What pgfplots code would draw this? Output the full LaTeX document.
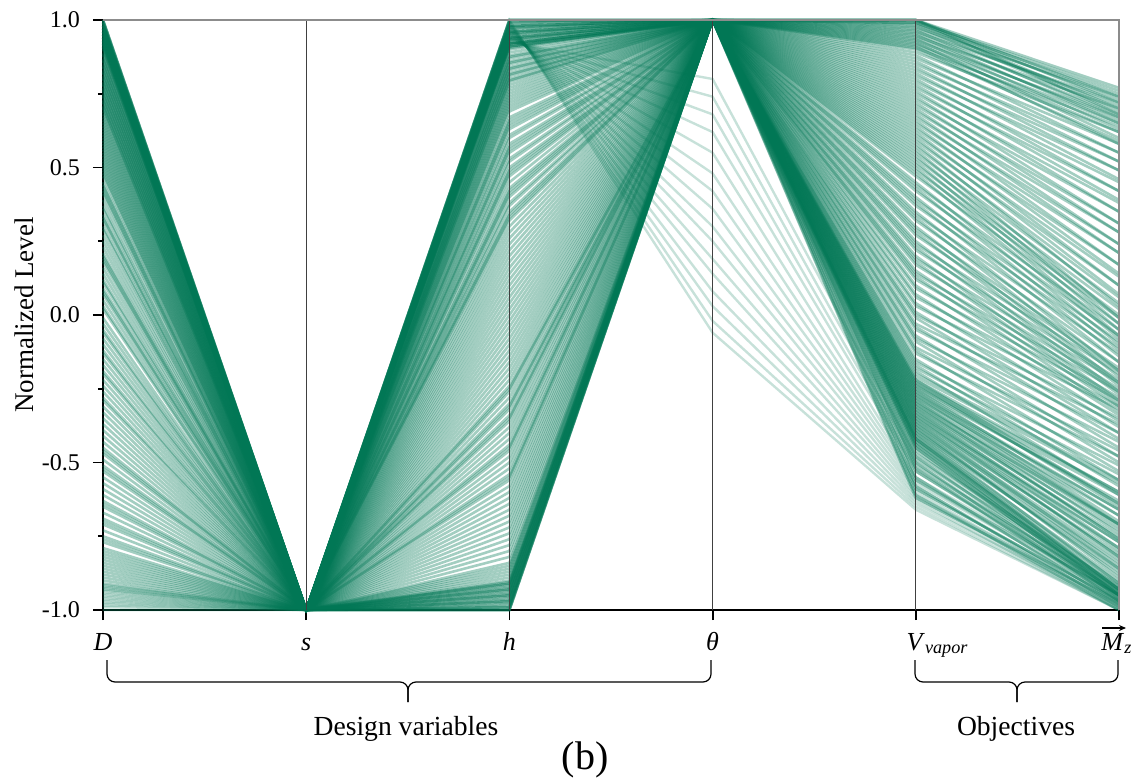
\documentclass[border=0pt]{standalone}
\usepackage{pgfplots}
\pgfplotsset{compat=1.18}
\usetikzlibrary{arrows.meta}
\usepackage{fontspec}
\setmainfont{Liberation Serif}
\definecolor{lc}{RGB}{0,118,84}
\newcommand\pl[5]{\addplot[lc, opacity=0.36, line width=1.3pt] coordinates {(0,#1) (1,-1) (2,#2) (3,#3) (4,#4) (5,#5)};}
\newcommand\pll[5]{\addplot[lc, opacity=0.22, line width=1.2pt] coordinates {(0,#1) (1,-1) (2,#2) (3,#3) (4,#4) (5,#5)};}
\begin{document}
\begin{tikzpicture}
\begin{axis}[name=ax, width=508pt, height=295pt, scale only axis,
  xmin=0, xmax=5, ymin=-1, ymax=1, clip=false,
  axis x line*=bottom, axis y line*=left,
  axis line style={line width=0.9pt, black},
  xtick={0,1,2,3,4,5}, xticklabels={},
  ytick={-1,-0.5,0,0.5,1}, minor ytick={-0.75,-0.25,0.25,0.75},
  /pgf/number format/assume math mode=true,
  /pgf/number format/fixed, /pgf/number format/fixed zerofill, /pgf/number format/precision=1,
  tick align=outside, major tick length=5pt, minor tick length=2.5pt,
  tick style={black, line width=0.9pt},
  yticklabel style={font=\fontsize{12}{14}\selectfont, xshift=-3pt},
  ylabel={Normalized Level}, ylabel style={font=\fontsize{13.5}{16}\selectfont}, ylabel shift=-3pt,
]
\pl{1.00}{-0.85}{1}{1.00}{0.77}
\pl{0.99}{-0.87}{1}{1.00}{0.74}
\pl{0.98}{-0.89}{1}{1.00}{0.72}
\pl{0.97}{-0.91}{1}{0.995}{0.76}
\pl{0.96}{-0.93}{1}{0.99}{0.70}
\pl{0.95}{-0.95}{1}{0.99}{0.75}
\pl{0.94}{-0.97}{1}{0.985}{0.73}
\pl{0.93}{-0.99}{1}{0.98}{0.69}
\pl{0.92}{-1.00}{1}{0.975}{0.74}
\pl{0.91}{-1.00}{1}{0.97}{0.71}
\pl{0.90}{-0.995}{1}{0.965}{0.67}
\pl{0.995}{-0.985}{1}{0.96}{0.72}
\pl{0.985}{-0.975}{1}{0.955}{0.68}
\pl{0.975}{-0.965}{1}{0.95}{0.65}
\pl{0.965}{-0.955}{1}{0.945}{0.70}
\pl{0.955}{-0.945}{1}{0.94}{0.66}
\pl{0.945}{-0.935}{1}{0.935}{0.63}
\pl{0.935}{-0.925}{1}{0.93}{0.67}
\pl{0.925}{-0.915}{1}{0.925}{0.60}
\pl{0.915}{-0.905}{1}{0.92}{0.65}
\pl{0.905}{-1.00}{1}{0.915}{0.62}
\pl{1.00}{-0.99}{1}{0.91}{0.58}
\pl{0.99}{-0.98}{1}{0.905}{0.64}
\pl{0.98}{-0.97}{1}{0.90}{0.59}
\pl{0.97}{-0.96}{1}{1.00}{0.68}
\pl{0.96}{-0.95}{1}{0.89}{0.62}
\pl{0.95}{-0.94}{1}{0.88}{0.55}
\pl{0.94}{-0.93}{1}{0.87}{0.58}
\pl{0.93}{-0.92}{1}{0.86}{0.52}
\pl{0.92}{-0.91}{1}{0.85}{0.55}
\pl{0.99}{-0.90}{1}{0.84}{0.49}
\pl{0.97}{-0.88}{1}{0.83}{0.52}
\pl{0.95}{-0.86}{1}{0.82}{0.46}
\pl{0.93}{-0.84}{1}{0.81}{0.49}
\pl{0.91}{-0.82}{1}{0.80}{0.42}
\pl{1.00}{-0.80}{1}{0.79}{0.45}
\pl{0.98}{-0.78}{1}{0.78}{0.39}
\pl{0.96}{-0.76}{1}{0.77}{0.42}
\pl{0.94}{-0.74}{1}{0.76}{0.35}
\pl{0.92}{-0.72}{1}{0.75}{0.38}
\pl{0.89}{-0.70}{1}{0.74}{0.31}
\pl{0.88}{-0.68}{1}{0.73}{0.35}
\pl{0.87}{-0.66}{1}{0.72}{0.28}
\pl{0.86}{-0.64}{1}{0.71}{0.31}
\pl{0.85}{-0.62}{1}{0.70}{0.24}
\pl{0.84}{-0.31}{1}{0.69}{0.28}
\pl{0.83}{-0.55}{1}{0.68}{0.21}
\pl{0.82}{-0.45}{1}{0.67}{0.24}
\pl{0.81}{-0.35}{1}{0.66}{0.17}
\pl{0.80}{-0.25}{1}{0.65}{0.21}
\pl{0.79}{-0.60}{1}{0.64}{0.14}
\pl{0.78}{-0.58}{1}{0.63}{0.17}
\pl{0.77}{-0.56}{1}{0.62}{0.10}
\pl{0.76}{-0.54}{1}{0.61}{0.13}
\pl{0.75}{-0.52}{1}{0.60}{0.07}
\pl{0.74}{-0.50}{1}{0.59}{0.10}
\pl{0.73}{-0.48}{1}{0.58}{0.03}
\pl{0.72}{-0.46}{1}{0.57}{0.06}
\pl{0.71}{-0.44}{1}{0.56}{-0.01}
\pl{0.70}{-0.42}{1}{0.55}{0.04}
\pl{0.885}{-0.40}{1}{0.54}{-0.03}
\pl{0.865}{-0.38}{1}{0.53}{0.02}
\pl{0.845}{-0.36}{1}{0.52}{-0.05}
\pl{0.825}{-0.34}{1}{0.51}{0.00}
\pl{0.805}{-0.32}{1}{0.50}{-0.07}
\pl{0.785}{-0.30}{1}{0.49}{-0.01}
\pl{0.765}{-0.28}{1}{0.48}{-0.08}
\pl{0.745}{-0.26}{1}{0.47}{-0.03}
\pl{0.725}{-0.24}{1}{0.45}{-0.10}
\pl{0.705}{-0.22}{1}{0.44}{-0.05}
\pl{0.69}{-0.20}{1}{0.43}{-0.12}
\pl{0.68}{-0.18}{1}{0.42}{-0.07}
\pl{0.66}{-0.16}{1}{0.40}{-0.14}
\pl{0.65}{-0.14}{1}{0.39}{-0.09}
\pl{0.63}{-0.12}{1}{0.38}{-0.16}
\pl{0.62}{-0.10}{1}{0.37}{-0.11}
\pl{0.60}{-0.08}{1}{0.35}{-0.19}
\pl{0.59}{-0.06}{1}{0.34}{-0.13}
\pl{0.57}{-0.04}{1}{0.33}{-0.21}
\pl{0.56}{-0.02}{1}{0.32}{-0.16}
\pl{0.54}{0.00}{1}{0.30}{-0.23}
\pl{0.53}{0.02}{1}{0.29}{-0.18}
\pl{0.51}{0.04}{1}{0.28}{-0.24}
\pl{0.50}{0.06}{1}{0.27}{-0.19}
\pl{0.48}{0.08}{1}{0.25}{-0.26}
\pl{0.47}{0.10}{1}{0.24}{-0.20}
\pl{0.45}{0.12}{1}{0.23}{-0.27}
\pl{0.44}{0.14}{1}{0.22}{-0.22}
\pl{0.42}{0.16}{1}{0.20}{-0.29}
\pl{0.41}{0.18}{1}{0.19}{-0.23}
\pl{0.67}{0.20}{1}{0.18}{-0.30}
\pl{0.61}{0.22}{1}{0.17}{-0.25}
\pl{0.55}{0.24}{1}{0.15}{-0.31}
\pl{0.49}{0.26}{1}{0.14}{-0.26}
\pl{0.43}{0.28}{1}{0.13}{-0.33}
\pl{0.39}{0.34}{1}{0.12}{-0.28}
\pl{0.37}{0.41}{1}{0.10}{-0.34}
\pl{0.36}{0.49}{1}{0.09}{-0.29}
\pl{0.34}{0.57}{1}{0.07}{-0.36}
\pl{0.32}{0.65}{1}{0.06}{-0.31}
\pl{0.30}{0.30}{1}{0.04}{-0.38}
\pl{0.29}{0.32}{1}{0.03}{-0.32}
\pl{0.27}{0.33}{1}{0.01}{-0.40}
\pl{0.25}{0.35}{1}{0.00}{-0.35}
\pl{0.23}{0.37}{1}{-0.01}{-0.42}
\pl{0.21}{0.38}{1}{-0.03}{-0.37}
\pl{0.20}{0.40}{1}{-0.04}{-0.45}
\pl{0.18}{0.42}{1}{-0.05}{-0.40}
\pl{0.16}{0.43}{1}{-0.07}{-0.48}
\pl{0.14}{0.45}{1}{-0.08}{-0.43}
\pl{0.12}{0.47}{1}{-0.09}{-0.50}
\pl{0.11}{0.48}{1}{-0.11}{-0.46}
\pl{0.09}{0.50}{1}{-0.12}{-0.53}
\pl{0.07}{0.52}{1}{-0.13}{-0.48}
\pl{0.05}{0.53}{1}{-0.15}{-0.56}
\pl{0.03}{0.55}{1}{-0.16}{-0.51}
\pl{0.02}{0.56}{1}{-0.17}{-0.58}
\pl{0.33}{0.58}{1}{-0.18}{-0.54}
\pl{0.19}{0.60}{1}{-0.19}{-0.61}
\pl{0.08}{0.61}{1}{-0.20}{-0.56}
\pl{-0.01}{0.63}{1}{-0.21}{-0.57}
\pl{-0.03}{0.64}{1}{-0.22}{-0.64}
\pl{-0.05}{0.66}{1}{-0.22}{-0.60}
\pl{-0.06}{0.67}{1}{-0.23}{-0.65}
\pl{-0.08}{0.69}{1}{-0.24}{-0.61}
\pl{-0.10}{0.795}{1}{-0.25}{-0.68}
\pl{-0.12}{0.815}{1}{-0.25}{-0.63}
\pl{-0.13}{0.835}{1}{-0.26}{-0.70}
\pl{-0.15}{0.855}{1}{-0.27}{-0.66}
\pl{-0.17}{0.875}{1}{-0.27}{-0.71}
\pl{-0.19}{0.70}{1}{-0.28}{-0.68}
\pl{-0.20}{0.71}{1}{-0.29}{-0.74}
\pl{-0.22}{0.72}{1}{-0.30}{-0.71}
\pl{-0.24}{0.73}{1}{-0.30}{-0.76}
\pl{-0.26}{0.74}{1}{-0.31}{-0.73}
\pl{-0.28}{0.75}{1}{-0.32}{-0.79}
\pl{-0.29}{0.76}{1}{-0.32}{-0.75}
\pl{-0.31}{0.77}{1}{-0.33}{-0.80}
\pl{-0.33}{0.78}{1}{-0.34}{-0.77}
\pl{-0.35}{0.79}{1}{-0.34}{-0.82}
\pl{-0.37}{0.80}{1}{-0.35}{-0.79}
\pl{-0.39}{0.81}{1}{-0.36}{-0.85}
\pl{0.64}{0.82}{1}{-0.36}{-0.81}
\pl{0.58}{0.83}{1}{-0.37}{-0.86}
\pl{0.52}{0.84}{1}{-0.38}{-0.84}
\pl{-0.41}{0.85}{1}{-0.38}{-0.89}
\pl{-0.43}{0.86}{1}{-0.39}{-0.86}
\pl{-0.45}{0.87}{1}{-0.40}{-0.91}
\pl{-0.47}{0.88}{1}{-0.40}{-0.87}
\pl{-0.49}{0.89}{1}{-0.41}{-0.93}
\pl{-0.51}{0.935}{1}{-0.41}{-0.90}
\pl{-0.53}{0.955}{1}{-0.42}{-0.94}
\pl{-0.55}{0.975}{1}{-0.42}{-0.91}
\pl{-0.57}{0.995}{1}{-0.43}{-0.95}
\pl{-0.59}{0.92}{1}{-0.43}{-0.92}
\pl{-0.61}{0.94}{1}{-0.44}{-0.95}
\pl{-0.63}{0.96}{1}{-0.44}{-0.93}
\pl{-0.65}{0.98}{1}{-0.45}{-0.96}
\pl{-0.67}{1.00}{1}{-0.45}{-0.94}
\pl{-0.69}{0.91}{1}{-0.42}{-0.93}
\pl{-0.71}{0.92}{1}{-0.39}{-0.88}
\pl{-0.73}{0.93}{1}{-0.37}{-0.83}
\pl{-0.75}{0.94}{1}{-0.35}{-0.82}
\pl{-0.77}{0.95}{1}{-0.33}{-0.77}
\pl{-0.79}{0.96}{1}{-0.31}{-0.76}
\pl{-0.46}{0.97}{1}{-0.29}{-0.72}
\pl{-0.52}{0.98}{1}{-0.28}{-0.71}
\pl{-0.64}{0.99}{1}{-0.26}{-0.66}
\pl{-0.70}{1.00}{1}{-0.24}{-0.64}
\pl{-0.76}{0.91}{1}{-0.23}{-0.60}
\pl{-0.80}{0.92}{1}{-0.46}{-0.95}
\pl{-0.81}{0.93}{1}{-0.47}{-0.92}
\pl{-0.82}{0.94}{1}{-0.48}{-0.96}
\pl{-0.83}{0.95}{1}{-0.49}{-0.93}
\pl{-0.84}{0.96}{1}{-0.50}{-0.97}
\pl{-0.85}{0.97}{1}{-0.51}{-0.94}
\pl{-0.86}{0.98}{1}{-0.52}{-0.97}
\pl{-0.87}{0.99}{1}{-0.53}{-0.95}
\pl{-0.88}{1.00}{1}{-0.55}{-0.98}
\pl{-0.89}{0.90}{1}{-0.56}{-0.95}
\pl{-0.90}{0.905}{1}{-0.58}{-0.99}
\pl{-0.91}{0.91}{1}{-0.59}{-0.97}
\pl{-0.92}{0.915}{1}{-0.61}{-1.00}
\pl{-0.93}{0.92}{1}{-0.62}{-0.98}
\pll{-0.94}{0.925}{0.80}{-0.48}{-0.93}
\pll{-0.95}{0.93}{0.74}{-0.50}{-0.95}
\pll{-0.96}{0.935}{0.68}{-0.52}{-0.94}
\pll{-0.97}{0.94}{0.62}{-0.53}{-0.96}
\pll{-0.98}{0.945}{0.55}{-0.55}{-0.95}
\pll{-0.99}{0.95}{0.48}{-0.56}{-0.97}
\pll{-1.00}{0.955}{0.42}{-0.57}{-0.96}
\pll{-0.985}{0.96}{0.36}{-0.58}{-0.98}
\pll{-0.975}{0.965}{0.30}{-0.59}{-0.97}
\pll{-0.965}{0.97}{0.25}{-0.60}{-0.99}
\pll{-0.955}{0.975}{0.19}{-0.61}{-0.98}
\pll{-0.945}{0.98}{0.14}{-0.62}{-0.99}
\pll{-0.935}{0.985}{0.08}{-0.63}{-1.00}
\pll{-0.925}{0.99}{0.03}{-0.64}{-0.99}
\pll{-0.915}{0.995}{-0.02}{-0.65}{-1.00}
\pll{-1.00}{1.00}{-0.06}{-0.66}{-1.00}
\pgfplotsinvokeforeach{1,2,3,4}{\draw[black!75, line width=0.5pt] (axis cs:#1,-1) -- (axis cs:#1,1);}
\draw[black!45, line width=0.6pt] (rel axis cs:0,1) -- (rel axis cs:1,1) -- (rel axis cs:1,0);
\begin{scope}[every node/.style={font=\fontsize{13}{15}\selectfont, anchor=base}]
\node at ([yshift=-20pt]axis cs:0,-1) {\textit{D}};
\node at ([yshift=-20pt]axis cs:1,-1) {\textit{s}};
\node at ([yshift=-20pt]axis cs:2,-1) {\textit{h}};
\node at ([yshift=-20pt]axis cs:3,-1) {\textit{θ}};
\node at ([yshift=-20pt]axis cs:4,-1) {\textit{V}\rlap{\textsubscript{\textit{vapor}}}};
\node[anchor=base west, inner sep=0pt] (mz) at ([xshift=-9pt, yshift=-20pt]axis cs:5,-1) {\textit{M}\textsubscript{\textit{z}}};
\end{scope}
\end{axis}
\draw[line width=0.6pt, -{Stealth[length=3.5pt, width=3pt]}] ([xshift=0.5pt, yshift=11pt]mz.base west) -- ++(12pt,0pt);
\begin{scope}[shift={(ax.south west)}, line width=0.6pt, rounded corners=4pt]
\draw (2pt,-25pt) -- (2pt,-36pt) -- (152.5pt,-36pt) -- (152.5pt,-46pt);
\draw (304pt,-25pt) -- (304pt,-36pt) -- (152.5pt,-36pt) -- (152.5pt,-46pt);
\draw (406pt,-25pt) -- (406pt,-36pt) -- (457pt,-36pt) -- (457pt,-46pt);
\draw (507.5pt,-25pt) -- (507.5pt,-36pt) -- (457pt,-36pt) -- (457pt,-46pt);
\node[font=\fontsize{13.8}{16}\selectfont] at (151.5pt,-59.5pt) {Design variables};
\node[font=\fontsize{13.8}{16}\selectfont] at (456.5pt,-59.5pt) {Objectives};
\node[font=\fontsize{20}{24}\selectfont] at (241pt,-75pt) {(b)};
\end{scope}
\pgfresetboundingbox
\path[use as bounding box] ([shift={(-51.5pt,-85pt)}]ax.south west) rectangle ([shift={(6pt,10pt)}]ax.north east);
\end{tikzpicture}
\end{document}
